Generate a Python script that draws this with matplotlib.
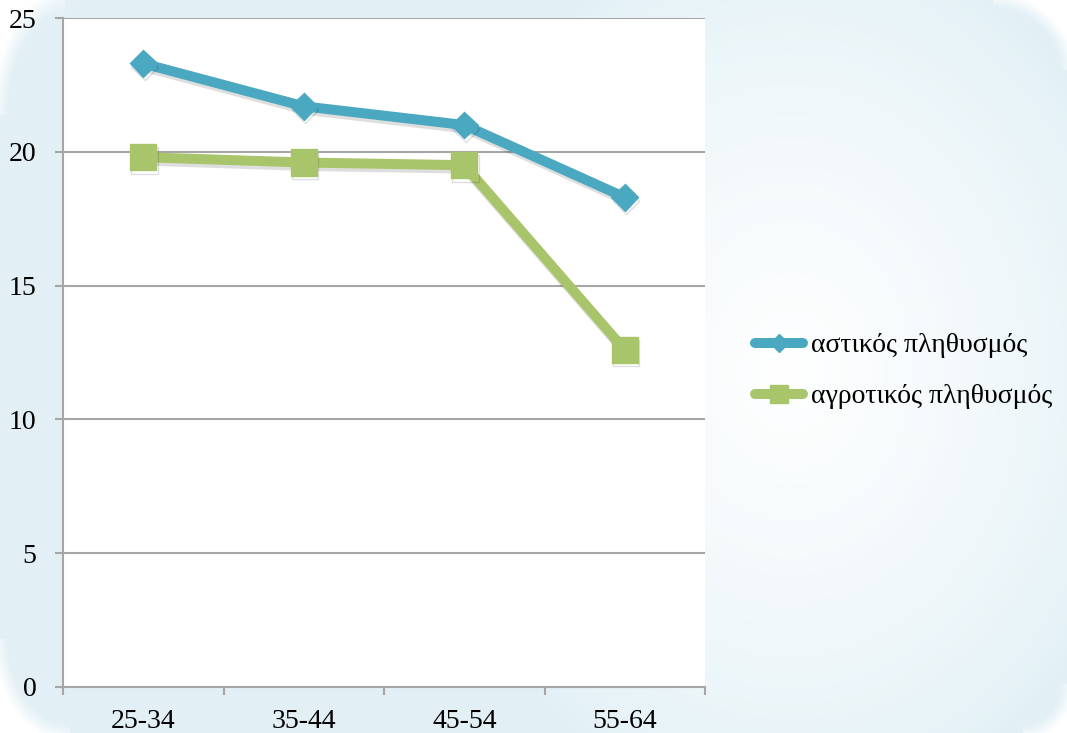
import matplotlib
matplotlib.use("Agg")
import matplotlib.pyplot as plt
import matplotlib.patheffects as pe
from matplotlib.lines import Line2D
import numpy as np

# ---------------------------------------------------------
# data
# ---------------------------------------------------------
age_groups = ["25-34", "35-44", "45-54", "55-64"]
urban = [23.3, 21.7, 21.0, 18.3]
rural = [19.8, 19.6, 19.5, 12.6]
series_names = ["αστικός πληθυσμός", "αγροτικός πληθυσμός"]
y_ticks = [0, 5, 10, 15, 20, 25]

blue = "#4ba8c1"
green = "#a9c56b"
grid_grey = "#a6a6a6"

plt.rcParams["font.family"] = ["Liberation Serif", "DejaVu Serif"]

W, H = 1067, 733
fig = plt.figure(figsize=(W / 100, H / 100), dpi=100)

# ---------------------------------------------------------
# background: light blue panel with soft white glow and rounded corners
# ---------------------------------------------------------
bg_ax = fig.add_axes([0, 0, 1, 1])
bg_ax.set_axis_off()
yy, xx = np.mgrid[0:H, 0:W].astype(float)
base = np.array([0.890, 0.945, 0.965])
d = np.hypot((xx - 790) / 360.0, (yy - 370) / 440.0)
glow = np.clip(1.0 - d, 0, 1) ** 0.8
img = np.ones((H, W, 4))
for c in range(3):
    img[..., c] = base[c] + (1 - base[c]) * glow


def corner_alpha(cx, cy, rx, ry, sx, sy, soft=14.0):
    # elliptical rounded corner, soft edge
    inside = ((xx - cx) * sx > 0) & ((yy - cy) * sy > 0)
    e = np.hypot((xx - cx) / rx, (yy - cy) / ry)
    a = np.clip((1.0 - e) * min(rx, ry) / soft + 0.5, 0, 1)
    return np.where(inside, a, 1.0)


alpha = np.ones((H, W))
alpha *= corner_alpha(65, 115, 65, 115, -1, -1)
alpha *= corner_alpha(W - 75, 70, 75, 70, 1, -1)
alpha *= corner_alpha(70, H - 95, 70, 95, -1, 1)
alpha *= corner_alpha(W - 45, H - 50, 45, 50, 1, 1)
img[..., 3] = alpha
bg_ax.imshow(img, extent=[0, W, H, 0], aspect="auto", interpolation="bilinear")
bg_ax.set_xlim(0, W)
bg_ax.set_ylim(H, 0)

# ---------------------------------------------------------
# plot area
# ---------------------------------------------------------
left, right, top, bottom = 63, 705, 18, 687
ax = fig.add_axes([left / W, 1 - bottom / H, (right - left) / W, (bottom - top) / H])
ax.set_facecolor("white")

x = np.arange(len(age_groups))
shadow = [pe.SimpleLineShadow(offset=(1, -2.5), shadow_color="black", alpha=0.13), pe.Normal()]

ax.plot(x, urban, color=blue, lw=7.2, marker="D", ms=13.5,
        solid_joinstyle="round", solid_capstyle="round", zorder=4,
        path_effects=shadow, clip_on=False)
ax.plot(x, rural, color=green, lw=7.2, marker="s", ms=19,
        solid_joinstyle="round", solid_capstyle="round", zorder=3,
        path_effects=shadow, clip_on=False)

ax.set_xlim(-0.5, len(age_groups) - 0.5)
ax.set_ylim(0, 25)
ax.set_yticks(y_ticks)
ax.set_yticklabels([str(t) for t in y_ticks], fontsize=20)
ax.yaxis.grid(True, color=grid_grey, lw=1.5)
ax.set_axisbelow(True)

ax.set_xticks(x)
ax.set_xticklabels(age_groups, fontsize=20)
ax.set_xticks(np.arange(len(age_groups) + 1) - 0.5, minor=True)
ax.tick_params(axis="x", which="major", length=0, pad=16)
ax.tick_params(axis="x", which="minor", length=6, width=1.5, color=grid_grey)
ax.tick_params(axis="y", length=6, width=1.5, color=grid_grey, pad=13)

for s in ["top", "right"]:
    ax.spines[s].set_visible(False)
for s in ["left", "bottom"]:
    ax.spines[s].set_color(grid_grey)
    ax.spines[s].set_linewidth(1.5)

# ---------------------------------------------------------
# legend
# ---------------------------------------------------------
handles = [
    Line2D([], [], color=blue, lw=7.2, marker="D", ms=8.7, solid_capstyle="round"),
    Line2D([], [], color=green, lw=7.2, marker="s", ms=13.5, solid_capstyle="round"),
]
fig.legend(handles, series_names, loc="center left",
           bbox_to_anchor=(755 / W, 1 - 371 / H), frameon=False,
           fontsize=20, handlelength=1.73, handletextpad=0.28,
           labelspacing=0.92, borderpad=0, borderaxespad=0)

fig.savefig("out.png", dpi=100)
plt.close(fig)
